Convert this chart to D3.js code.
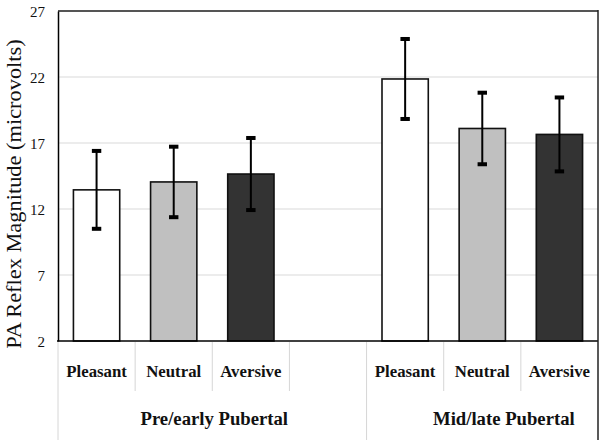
<!DOCTYPE html>
<html>
<head>
<meta charset="utf-8">
<script src="https://cdn.jsdelivr.net/npm/d3@7"></script>
<style>
  html, body { margin: 0; padding: 0; background: #fff; }
  svg { display: block; }
  svg text { font-family: "Liberation Serif", "Times New Roman", Times, "DejaVu Serif", serif; }
</style>
</head>
<body>
<svg id="chart" width="601" height="440"></svg>
<script>
// ---- data ----
const groups = ["Pre/early Pubertal", "Mid/late Pubertal"];
const conditions = ["Pleasant", "Neutral", "Aversive"];
const preValues = [13.45, 14.05, 14.65];
const preErrors = [2.95, 2.67, 2.73];
const midValues = [21.85, 18.1, 17.65];
const midErrors = [3.03, 2.71, 2.8];
const yTicks = [2, 7, 12, 17, 22, 27];
const yTitle = "PA Reflex Magnitude (microvolts)";
const fills = ["#ffffff", "#c0c0c0", "#333333"];

(function () {
// ---- build records ----
const slots = [];
conditions.forEach((c, i) => slots.push({ key: "pre-" + c, cond: c, group: 0, ci: i, value: preValues[i], err: preErrors[i] }));
slots.push({ key: "gap", cond: "", group: 0, ci: -1, value: null, err: null });
conditions.forEach((c, i) => slots.push({ key: "mid-" + c, cond: c, group: 1, ci: i, value: midValues[i], err: midErrors[i] }));

const svg = d3.select("#chart");
const mLeft = 58, mRight = 598, mTop = 11, mBottom = 341, labelBottom = 440;

const x = d3.scaleBand().domain(slots.map(d => d.key)).range([mLeft, mRight]).paddingInner(0.4).paddingOuter(0.2);
const y = d3.scaleLinear().domain([2, 27]).range([mBottom, mTop]);
const step = x.step();

// gridlines
svg.append("g").selectAll("line").data(yTicks.filter(t => t !== 2 && t !== 27)).join("line")
  .attr("x1", mLeft).attr("x2", mRight)
  .attr("y1", d => y(d)).attr("y2", d => y(d))
  .attr("stroke", "#d9d9d9").attr("stroke-width", 1);

// top border
svg.append("line").attr("x1", mLeft).attr("x2", mRight).attr("y1", y(27)).attr("y2", y(27))
  .attr("stroke", "#555").attr("stroke-width", 2);

// bars
const barSlots = slots.filter(d => d.value !== null);
svg.append("g").selectAll("rect").data(barSlots).join("rect")
  .attr("x", d => x(d.key)).attr("width", x.bandwidth())
  .attr("y", d => y(d.value)).attr("height", d => y(2) - y(d.value))
  .attr("fill", d => fills[d.ci]).attr("stroke", "#111").attr("stroke-width", 1.6);

// error bars
const eg = svg.append("g");
eg.selectAll("line.stem").data(barSlots).join("line").attr("class", "stem")
  .attr("x1", d => x(d.key) + x.bandwidth() / 2).attr("x2", d => x(d.key) + x.bandwidth() / 2)
  .attr("y1", d => y(d.value + d.err)).attr("y2", d => y(d.value - d.err))
  .attr("stroke", "#000").attr("stroke-width", 2);
const caps = [];
barSlots.forEach(d => { caps.push({ d, v: d.value + d.err }); caps.push({ d, v: d.value - d.err }); });
eg.selectAll("rect.cap").data(caps).join("rect").attr("class", "cap")
  .attr("x", c => x(c.d.key) + x.bandwidth() / 2 - 4.7).attr("width", 9.4)
  .attr("y", c => y(c.v) - 2).attr("height", 4)
  .attr("fill", "#000");

// y axis
const yAxis = d3.axisLeft(y).tickValues(yTicks).tickSize(0).tickPadding(13).tickFormat(d3.format("d"));
const ya = svg.append("g").attr("transform", `translate(${mLeft},0)`).call(yAxis);
ya.attr("font-family", null).attr("font-size", null);
ya.select(".domain").attr("stroke", "#000").attr("stroke-width", 1.5);
ya.selectAll(".tick text")
  .attr("font-size", 15).attr("fill", "#111")
  .attr("dy", "0.34em");

// bottom axis line
svg.append("line").attr("x1", mLeft - 1).attr("x2", mRight).attr("y1", mBottom).attr("y2", mBottom)
  .attr("stroke", "#000").attr("stroke-width", 1.5);

// right border
svg.append("line").attr("x1", mRight).attr("x2", mRight).attr("y1", mTop - 1).attr("y2", labelBottom)
  .attr("stroke", "#222").attr("stroke-width", 1.5);

// category table separators
const sepG = svg.append("g");
slots.forEach((d, i) => {
  const xs = x(d.key) - x.paddingInner() * step / 2;
  const long = (i === 0 || d.key === "mid-Pleasant");
  sepG.append("line").attr("x1", xs).attr("x2", xs)
    .attr("y1", mBottom + 1).attr("y2", long ? labelBottom : mBottom + 50)
    .attr("stroke", "#d6d6d6").attr("stroke-width", 1);
});

// category labels
svg.append("g").selectAll("text").data(barSlots).join("text")
  .attr("x", d => x(d.key) + x.bandwidth() / 2).attr("y", 377)
  .attr("text-anchor", "middle")
  .attr("font-weight", "bold").attr("font-size", 16.8).attr("fill", "#111")
  .text(d => d.cond);

// group labels
const groupCenters = [
  (x("pre-Neutral") + x("pre-Aversive") + x.bandwidth()) / 2 + 2,
  (x("mid-Neutral") + x("mid-Aversive") + x.bandwidth()) / 2 - 17
];
svg.append("g").selectAll("text").data(groups).join("text")
  .attr("x", (d, i) => groupCenters[i]).attr("y", 425)
  .attr("text-anchor", "middle")
  .attr("font-weight", "bold").attr("font-size", 18.7).attr("fill", "#111")
  .text(d => d);

// y title
svg.append("text")
  .attr("transform", "translate(21,194) rotate(-90) scale(1.12,1)")
  .attr("text-anchor", "middle")
  .attr("font-size", 20).attr("fill", "#111")
  .text(yTitle);
})();
</script>
</body>
</html>
